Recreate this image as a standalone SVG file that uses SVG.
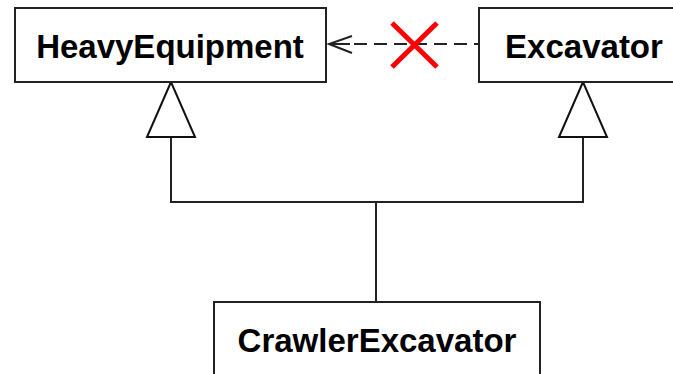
<svg xmlns="http://www.w3.org/2000/svg" width="673" height="374" viewBox="0 0 673 374">
<style>
.box{fill:#fff;stroke:#222;stroke-width:2}
.lbl{font-family:"Liberation Sans",Arial,sans-serif;font-weight:bold;font-size:33px;fill:#000;text-anchor:middle}
.ln{fill:none;stroke:#222;stroke-width:2}
.tri{fill:#fff;stroke:#111;stroke-width:2;stroke-linejoin:miter}
</style>
<rect width="673" height="374" fill="#fff"/>
<g id="connectors">
<polyline class="ln" points="171,137 171,202 583,202 583,137"/>
<line class="ln" x1="376" y1="202" x2="376" y2="302"/>
<polygon class="tri" points="171,82 147,137 195,137"/>
<polygon class="tri" points="583,82 559,137 607,137"/>
<line class="ln" x1="329" y1="44" x2="479" y2="44" stroke-dasharray="13,7" stroke-dashoffset="-25"/>
<polyline class="ln" points="352,36 329,44 352,53"/>
<line class="ln" x1="329" y1="44" x2="350" y2="44"/>
<g stroke="#f00" stroke-width="5" stroke-linecap="butt">
<line x1="392" y1="23" x2="437" y2="67"/>
<line x1="437" y1="23" x2="392" y2="67"/>
</g>
</g>
<g id="HeavyEquipment">
<rect class="box" x="15" y="8" width="311" height="74"/>
<text class="lbl" x="170" y="58">HeavyEquipment</text>
</g>
<g id="Excavator">
<rect class="box" x="479" y="8" width="210" height="74"/>
<text class="lbl" x="584" y="58">Excavator</text>
</g>
<g id="CrawlerExcavator">
<rect class="box" x="214" y="302" width="326" height="90"/>
<text class="lbl" x="377" y="352">CrawlerExcavator</text>
</g>
</svg>
